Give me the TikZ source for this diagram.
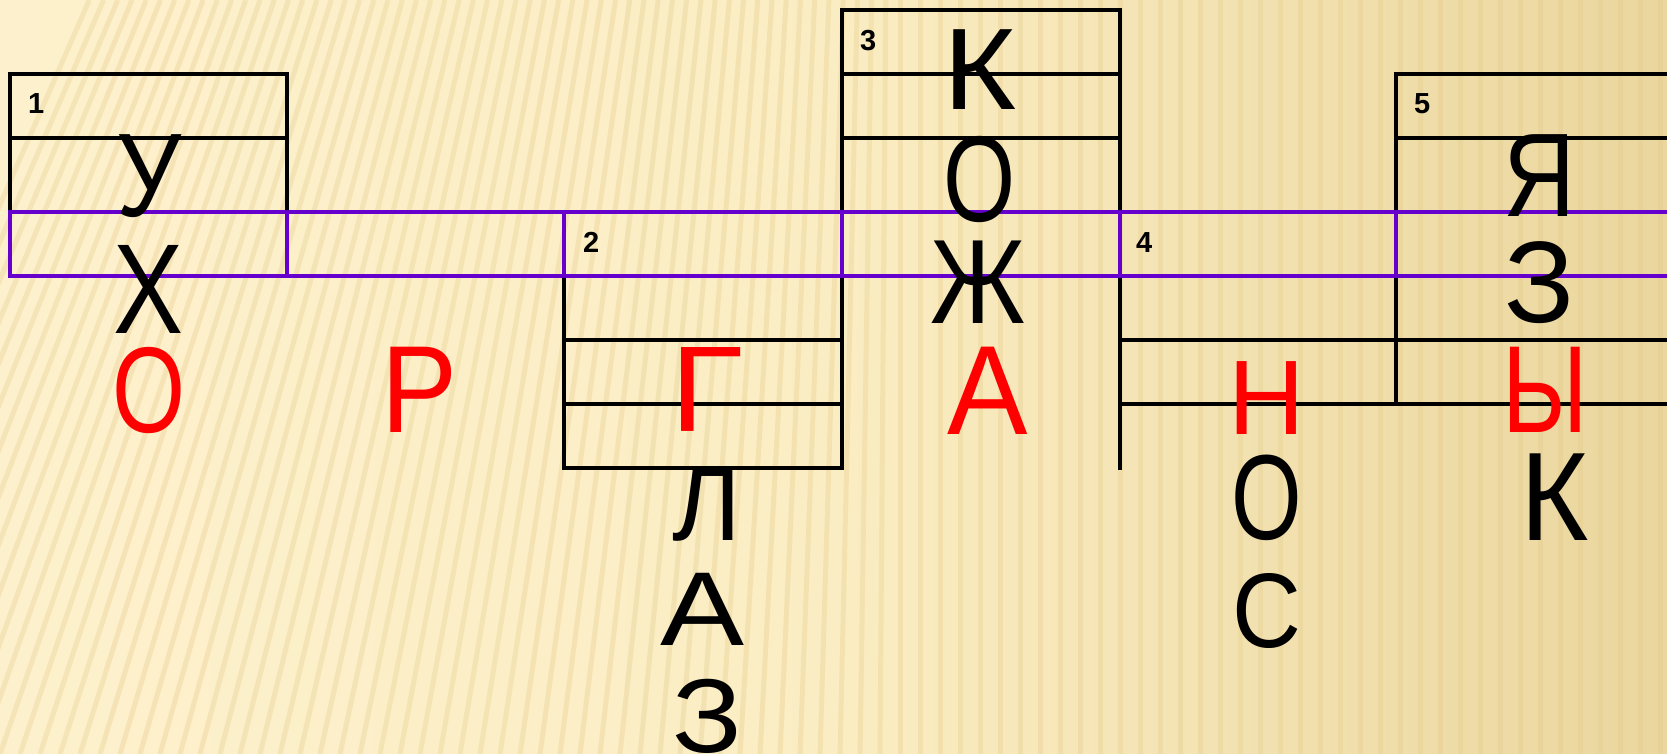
\documentclass[tikz,border=0pt]{standalone}
\usepackage{graphicx}
\usepackage{fontspec}
\setmainfont{Liberation Sans}
\newfontfamily\letterfont{Liberation Sans}
\definecolor{grape}{HTML}{6600CC}
\definecolor{bgL}{HTML}{FDF1CD}
\definecolor{bgM}{HTML}{FBEDC3}
\definecolor{bgR}{HTML}{EAD69E}
\definecolor{stripe}{HTML}{E3C885}
\definecolor{hot}{HTML}{FF0000}
\newcommand\LS[1]{\fontsize{#1}{#1}\selectfont}
\newcommand\SX[2]{\scalebox{#1}[1]{#2}}
\begin{document}
\begin{tikzpicture}[x=1pt,y=-1pt,
  grid/.style={line width=3.5pt, black, line cap=rect},
  band/.style={line width=3.5pt, grape, line cap=rect},
  num/.style={anchor=base west, inner sep=0pt, font=\bfseries\LS{29}},
  lt/.style={anchor=base, inner sep=0pt},
  ans/.style={lt, text=hot},
]
\useasboundingbox (0,0) rectangle (1667,754);
\fill[left color=bgL, right color=bgR, middle color=bgM] (0,0) rectangle (1667,754);
\begin{scope}
\clip (0,0) rectangle (1667,754);
\foreach \i in {0,...,95}{
  \pgfmathsetmacro\xb{-240+\i*20}
  \pgfmathsetmacro\dx{max(0,260*(1-\xb/900))}
  \draw[stripe, opacity=0.3, line width=5pt] (\xb,754) -- (\xb+\dx,0);
}
\end{scope}
% box 1
\draw[grid] (10,212) -- (10,74) -- (287,74) -- (287,212);
\draw[grid] (10,138) -- (287,138);
% box 3
\draw[grid] (842,468) -- (842,10) -- (1120,10) -- (1120,468);
\draw[grid] (842,74) -- (1120,74) (842,138) -- (1120,138);
% box 2
\draw[grid] (564,276) -- (564,468) -- (842,468);
\draw[grid] (564,340) -- (842,340) (564,404) -- (842,404);
% box 4 and 5
\draw[grid] (1120,340) -- (1667,340) (1120,404) -- (1667,404);
\draw[grid] (1396,212) -- (1396,74) -- (1667,74) (1396,138) -- (1667,138);
\draw[grid] (1396,276) -- (1396,404);
% purple band
\draw[band] (10,212) -- (1667,212) (10,276) -- (1667,276);
\foreach \x in {10,287,564,842,1120,1396} \draw[band] (\x,212) -- (\x,276);
% numbers
\node[num] (n1) at (28,114) {1};
\node[num] (n2) at (583,252) {2};
\node[num] (n3) at (860,51) {3};
\node[num] (n4) at (1136,252) {4};
\node[num] (n5) at (1414,114) {5};
% column 1
\node[lt, font=\letterfont\LS{119}] (a1) at (149,217) {\SX{0.86}{У}};
\node[lt, font=\letterfont\LS{128}] (a2) at (149,333) {\SX{0.82}{Х}};
\node[ans, font=\letterfont\LS{122}] (a3) at (149,432) {\SX{0.77}{О}};
% column 2
\node[ans, font=\letterfont\LS{124}] (b1) at (420,432) {\SX{0.92}{Р}};
% column 3
\node[ans, font=\letterfont\LS{122}] (c1) at (707,431) {\SX{1.1}{Г}};
\node[lt, font=\letterfont\LS{105}] (c2) at (707,540) {Л};
\node[lt, font=\letterfont\LS{105}] (c3) at (703,645) {\SX{1.2}{А}};
\node[lt, font=\letterfont\LS{105}] (c4) at (707,752) {\SX{1.1}{З}};
% column 4
\node[lt, font=\letterfont\LS{116}] (d1) at (980,110) {\SX{1.08}{К}};
\node[lt, font=\letterfont\LS{122}] (d2) at (980,222) {\SX{0.76}{О}};
\node[lt, font=\letterfont\LS{120}] (d3) at (978,323) {\SX{0.86}{Ж}};
\node[ans, font=\letterfont\LS{127}] (d4) at (988,434) {\SX{0.95}{А}};
% column 5
\node[ans, font=\letterfont\LS{106}] (e1) at (1267,434) {Н};
\node[lt, font=\letterfont\LS{121}] (e2) at (1267,539) {\SX{0.75}{О}};
\node[lt, font=\letterfont\LS{106}] (e3) at (1267,647) {\SX{0.9}{С}};
% column 6
\node[lt, font=\letterfont\LS{119}] (f1) at (1540,217) {\SX{0.84}{Я}};
\node[lt, font=\letterfont\LS{116}] (f2) at (1540,322) {З};
\node[ans, font=\letterfont\LS{124}] (f3) at (1545,432) {\SX{0.78}{Ы}};
\node[lt, font=\letterfont\LS{126}] (f4) at (1555,540) {\SX{0.93}{К}};
\end{tikzpicture}
\end{document}
